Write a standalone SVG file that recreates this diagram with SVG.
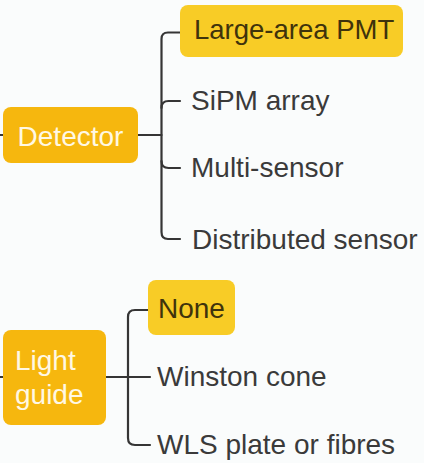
<svg xmlns="http://www.w3.org/2000/svg" width="424" height="463" viewBox="0 0 424 463">
<style>
.conn{fill:none;stroke:#353535;stroke-width:2.2;stroke-linecap:round}
.root{fill:#F6B70E}
.sel{fill:#F8CC26}
text{font-family:"Liberation Sans",Arial,sans-serif;font-size:28px}
.rt{fill:#FFF8E4}
.st{fill:#3F330C}
.ct{fill:#3A3A3A}
</style>
<rect width="424" height="463" fill="#FAFCFC"/>
<g id="connectors">
<path class="conn" d="M0,135 H3 M138,135 H161.5"/>
<path class="conn" d="M180,32.5 H168 Q161.5,32.5 161.5,39 V232 Q161.5,239 168,239 H180"/>
<path class="conn" d="M161.5,108 Q161.5,101 168.5,101 H180"/>
<path class="conn" d="M161.5,161 Q161.5,168 168.5,168 H180"/>
<path class="conn" d="M0,377 H3 M106,377 H150"/>
<path class="conn" d="M150,310 H135 Q128,310 128,317 V438 Q128,445 135,445 H150"/>
</g>
<g id="detector">
<rect class="root" x="3" y="107" width="135" height="56" rx="8"/>
<text class="rt" x="70.5" y="145.5" text-anchor="middle">Detector</text>
</g>
<g id="large-area-pmt">
<rect class="sel" x="180" y="5" width="223" height="52" rx="8"/>
<text class="st" x="194" y="39" style="font-size:27.5px">Large-area PMT</text>
</g>
<g id="sipm-array">
<text class="ct" x="191" y="110">SiPM array</text>
</g>
<g id="multi-sensor">
<text class="ct" x="191" y="177">Multi-sensor</text>
</g>
<g id="distributed-sensor">
<text class="ct" x="192" y="249">Distributed sensor</text>
</g>
<g id="light-guide">
<rect class="root" x="3" y="330" width="103" height="95" rx="8"/>
<text class="rt" x="15" y="370">Light</text>
<text class="rt" x="15" y="404">guide</text>
</g>
<g id="none">
<rect class="sel" x="148" y="280" width="87" height="55" rx="8"/>
<text class="st" x="158" y="318">None</text>
</g>
<g id="winston-cone">
<text class="ct" x="157" y="386">Winston cone</text>
</g>
<g id="wls">
<text class="ct" x="157" y="454">WLS plate or fibres</text>
</g>
</svg>
